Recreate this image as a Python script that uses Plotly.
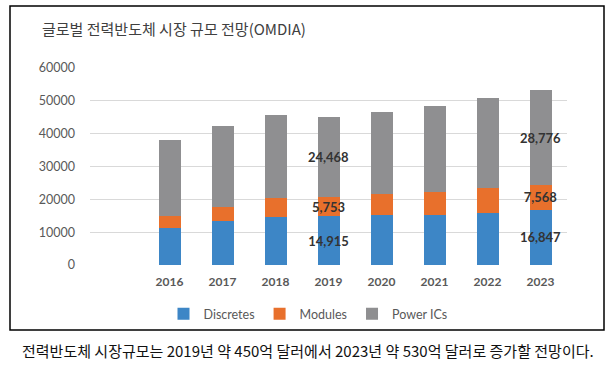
import plotly.graph_objects as go

years = [2016, 2017, 2018, 2019, 2020, 2021, 2022, 2023]
discretes = [11400, 13300, 14600, 14915, 15200, 15200, 15900, 16847]
modules = [3600, 4500, 5900, 5753, 6400, 7000, 7600, 7568]
power_ics = [23100, 24600, 25200, 24468, 25100, 26300, 27300, 28776]
labeled_years = [2019, 2023]
y_ticks = [0, 10000, 20000, 30000, 40000, 50000, 60000]

title_text = "글로벌 전력반도체 시장 규모 전망(OMDIA)"
caption_text = "전력반도체 시장규모는 2019년 약 450억 달러에서 2023년 약 530억 달러로 증가할 전망이다."

W, H = 612, 366
L, R, T, B = 90, 567, 68, 265  # plot area in pixels


def px(x):
    return (x - L) / (R - L)


def py(y):
    return (B - y) / (B - T)


def lab(vals):
    return [f"{v:,}" if yr in labeled_years else "" for yr, v in zip(years, vals)]


series = [
    ("Discretes", discretes, "#3d86c6"),
    ("Modules", modules, "#e8702c"),
    ("Power ICs", power_ics, "#8f8f91"),
]

fig = go.Figure()
for name, vals, col in series:
    fig.add_trace(go.Bar(
        x=years, y=vals, name=name, marker=dict(color=col, line=dict(width=0)),
        width=0.415, text=lab(vals), textposition="inside", insidetextanchor="middle",
        constraintext="none", textangle=0,
        textfont=dict(family="Lato", size=13, color="#333333", weight="bold"),
        hoverinfo="skip",
    ))

fig.update_layout(
    width=W, height=H, barmode="stack",
    margin=dict(l=L, r=W - R, t=T, b=H - B, autoexpand=False),
    paper_bgcolor="white", plot_bgcolor="white",
    font=dict(family="Lato", color="#595959"),
    xaxis=dict(range=[2014.5, 2023.5], tickvals=years, ticktext=[str(y) for y in years],
               showgrid=False, zeroline=False, showline=False, ticks="",
               tickfont=dict(size=12, color="#595959", weight="bold"), ticklabelstandoff=8),
    yaxis=dict(range=[0, 60000], tickvals=y_ticks, ticktext=[str(v) for v in y_ticks],
               showgrid=True, gridcolor="#d9d9d9", gridwidth=1, zeroline=False,
               showline=False, ticks="", tickfont=dict(size=12.5, color="#595959"),
               ticklabelstandoff=14),
    showlegend=True,
    legend=dict(orientation="h", x=px(308), xanchor="center", y=py(314), yanchor="middle",
                font=dict(size=12.5, color="#595959"), itemwidth=30, traceorder="normal",
                bgcolor="rgba(0,0,0,0)"),
    shapes=[dict(type="rect", xref="paper", yref="paper",
                 x0=px(10), x1=px(604), y0=py(330), y1=py(6),
                 line=dict(color="black", width=1.5), fillcolor="rgba(0,0,0,0)", layer="below")],
    annotations=[
        dict(text=title_text, xref="paper", yref="paper", x=px(40), y=py(29),
             xanchor="left", yanchor="middle", showarrow=False,
             font=dict(family="Noto Sans CJK KR", size=15, color="#404040")),
        dict(text=caption_text, xref="paper", yref="paper", x=px(308), y=py(350),
             xanchor="center", yanchor="middle", showarrow=False,
             font=dict(family="Noto Sans CJK KR", size=15, color="#111111")),
    ],
)

fig.write_html("out.html", config={"displayModeBar": False},
               post_script="document.body.style.margin='0';document.body.style.overflow='hidden';")
